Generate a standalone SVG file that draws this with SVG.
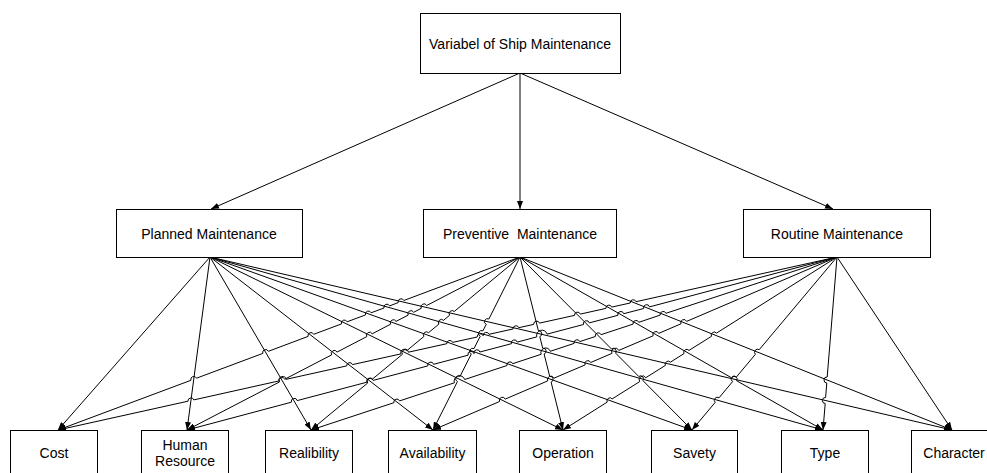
<svg xmlns="http://www.w3.org/2000/svg" width="987" height="473" viewBox="0 0 987 473">
<style>
.box{fill:#fff;stroke:#000;stroke-width:1}
.t{font-family:"Liberation Sans",Arial,sans-serif;font-size:14px;fill:#000;text-anchor:middle}
.c path{fill:none;stroke:#000;stroke-width:1;marker-end:url(#ah)}
</style>
<defs>
<marker id="ah" viewBox="0 0 8 6" refX="8" refY="3" markerWidth="8" markerHeight="6" markerUnits="userSpaceOnUse" orient="auto"><path d="M0,0 L8,3 L0,6 z" fill="#000"/></marker>
</defs>
<rect width="987" height="473" fill="#fff"/>
<g id="connectors" class="c">
<path d="M520,73 L211,209"/>
<path d="M520,73 L520,209"/>
<path d="M520,73 L833,209"/>
<path d="M210,257 L58,430"/>
<path d="M210,257 L187,430"/>
<path d="M210,257 L311,430"/>
<path d="M210,257 L433,430"/>
<path d="M210,257 L563,430"/>
<path d="M210,257 L692,430"/>
<path d="M210,257 L823,430"/>
<path d="M210,257 L952,430"/>
<path d="M520,257 L403.8,300.5 A3,3 0 0 0 398.2,302.6 L389.6,305.9 A3,3 0 0 0 384.0,308.0 L371.1,312.8 A3,3 0 0 0 365.5,314.9 L347.1,321.8 A3,3 0 0 0 341.5,323.9 L313.7,334.3 A3,3 0 0 0 308.1,336.4 L268.4,351.3 A3,3 0 0 0 262.8,353.4 L196.5,378.2 A3,3 0 0 0 190.9,380.3 L58,430"/>
<path d="M520,257 L426.7,305.5 A3,3 0 0 0 421.3,308.3 L413.6,312.3 A3,3 0 0 0 408.2,315.1 L396.0,321.4 A3,3 0 0 0 390.6,324.2 L372.2,333.8 A3,3 0 0 0 366.8,336.6 L337.0,352.1 A3,3 0 0 0 331.6,354.9 L284.8,379.2 A3,3 0 0 0 279.4,382.0 L187,430"/>
<path d="M520,257 L454.2,311.5 A3,3 0 0 0 449.6,315.3 L443.5,320.3 A3,3 0 0 0 438.9,324.1 L428.5,332.7 A3,3 0 0 0 423.9,336.5 L407.0,350.5 A3,3 0 0 0 402.4,354.3 L372.3,379.2 A3,3 0 0 0 367.7,383.0 L311,430"/>
<path d="M520,257 L488.9,319.0 A3,3 0 0 0 486.2,324.4 L482.9,330.9 A3,3 0 0 0 480.2,336.3 L474.0,348.6 A3,3 0 0 0 471.3,354.0 L460.1,376.2 A3,3 0 0 0 457.4,381.6 L433,430"/>
<path d="M520,257 L538.4,330.8 A3,3 0 0 1 539.8,336.6 L542.7,348.2 A3,3 0 0 1 544.1,354.0 L549.7,376.3 A3,3 0 0 1 551.1,382.1 L563,430"/>
<path d="M520,257 L611.5,349.0 A3,3 0 0 1 615.7,353.2 L638.8,376.5 A3,3 0 0 1 643.0,380.7 L692,430"/>
<path d="M520,257 L731.4,377.7 A3,3 0 0 1 736.6,380.7 L823,430"/>
<path d="M520,257 L952,430"/>
<path d="M837,257 L636.0,301.7 A3,3 0 0 0 630.2,303.0 L611.7,307.1 A3,3 0 0 0 605.9,308.4 L580.3,314.1 A3,3 0 0 0 574.5,315.4 L539.5,323.1 A3,3 0 0 0 533.7,324.4 L518.8,327.7 A3,3 0 0 0 513.0,329.0 L489.0,334.3 A3,3 0 0 0 483.2,335.6 L483.0,335.7 A3,3 0 0 0 477.2,337.0 L452.6,342.4 A3,3 0 0 0 446.8,343.7 L408.4,352.2 A3,3 0 0 0 400.9,353.9 L352.5,364.6 A3,3 0 0 0 346.7,365.9 L286.2,379.3 A3,3 0 0 0 279.1,380.9 L193.8,399.9 A3,3 0 0 0 188.0,401.2 L58,430"/>
<path d="M837,257 L649.5,306.9 A3,3 0 0 0 643.7,308.5 L623.7,313.7 A3,3 0 0 0 617.9,315.3 L589.3,322.9 A3,3 0 0 0 583.5,324.5 L547.1,334.1 A3,3 0 0 0 536.8,336.9 L517.2,342.1 A3,3 0 0 0 511.4,343.7 L479.9,352.0 A3,3 0 0 0 474.1,353.6 L473.9,353.6 A3,3 0 0 0 468.1,355.2 L433.6,364.3 A3,3 0 0 0 427.8,365.9 L373.1,380.4 A3,3 0 0 0 366.9,382.2 L297.2,400.6 A3,3 0 0 0 291.4,402.2 L187,430"/>
<path d="M837,257 L665.9,313.3 A3,3 0 0 0 660.2,315.1 L638.8,322.3 A3,3 0 0 0 633.1,324.1 L601.0,334.7 A3,3 0 0 0 595.3,336.5 L579.8,341.6 A3,3 0 0 0 574.1,343.4 L550.3,351.3 A3,3 0 0 0 541.1,354.3 L512.7,363.7 A3,3 0 0 0 507.0,365.5 L464.7,379.5 A3,3 0 0 0 454.4,382.8 L399.6,400.9 A3,3 0 0 0 393.9,402.7 L311,430"/>
<path d="M837,257 L686.6,321.4 A3,3 0 0 0 681.0,323.8 L658.7,333.4 A3,3 0 0 0 653.1,335.8 L618.8,350.4 A3,3 0 0 0 611.9,353.4 L590.7,362.5 A3,3 0 0 0 585.1,364.9 L553.9,378.2 A3,3 0 0 0 547.7,380.9 L505.2,399.1 A3,3 0 0 0 499.6,401.5 L433,430"/>
<path d="M837,257 L716.5,333.1 A3,3 0 0 0 711.5,336.3 L689.0,350.4 A3,3 0 0 0 684.0,353.6 L670.4,362.2 A3,3 0 0 0 665.4,365.4 L645.8,377.7 A3,3 0 0 0 639.7,381.6 L612.2,398.9 A3,3 0 0 0 607.2,402.1 L563,430"/>
<path d="M837,257 L759.2,349.7 A3,3 0 0 0 755.4,354.3 L736.4,377.0 A3,3 0 0 0 732.5,381.7 L719.0,397.8 A3,3 0 0 0 715.2,402.4 L692,430"/>
<path d="M837,257 L827.2,377.0 A3,3 0 0 0 826.8,383.0 L825.6,397.5 A3,3 0 0 0 825.2,403.5 L823,430"/>
<path d="M837,257 L952,430"/>
</g>
<g id="n-top"><rect class="box" x="420.5" y="13.5" width="200" height="60"/><text class="t" x="520" y="48.5">Variabel of Ship Maintenance</text></g>
<g id="n-planned"><rect class="box" x="116.5" y="209.5" width="186" height="48"/><text class="t" x="209" y="238.5">Planned Maintenance</text></g>
<g id="n-preventive"><rect class="box" x="423.5" y="209.5" width="193" height="48"/><text class="t" x="520" y="238.5" xml:space="preserve">Preventive  Maintenance</text></g>
<g id="n-routine"><rect class="box" x="743.5" y="209.5" width="187" height="48"/><text class="t" x="837" y="238.5">Routine Maintenance</text></g>
<g id="n-cost"><rect class="box" x="10.5" y="430.5" width="87" height="60"/><text class="t" x="54" y="458">Cost</text></g>
<g id="n-human"><rect class="box" x="141.5" y="430.5" width="87" height="60"/><text class="t" x="185" y="450">Human</text><text class="t" x="185" y="466">Resource</text></g>
<g id="n-realibility"><rect class="box" x="265.5" y="430.5" width="87" height="60"/><text class="t" x="309" y="458">Realibility</text></g>
<g id="n-availability"><rect class="box" x="388.5" y="430.5" width="88" height="60"/><text class="t" x="432.5" y="458">Availability</text></g>
<g id="n-operation"><rect class="box" x="519.5" y="430.5" width="87" height="60"/><text class="t" x="563" y="458">Operation</text></g>
<g id="n-savety"><rect class="box" x="651.5" y="430.5" width="86" height="60"/><text class="t" x="694.5" y="458">Savety</text></g>
<g id="n-type"><rect class="box" x="781.5" y="430.5" width="87" height="60"/><text class="t" x="825" y="458">Type</text></g>
<g id="n-character"><rect class="box" x="911.5" y="430.5" width="87" height="60"/><text class="t" x="954" y="458">Character</text></g>
</svg>
